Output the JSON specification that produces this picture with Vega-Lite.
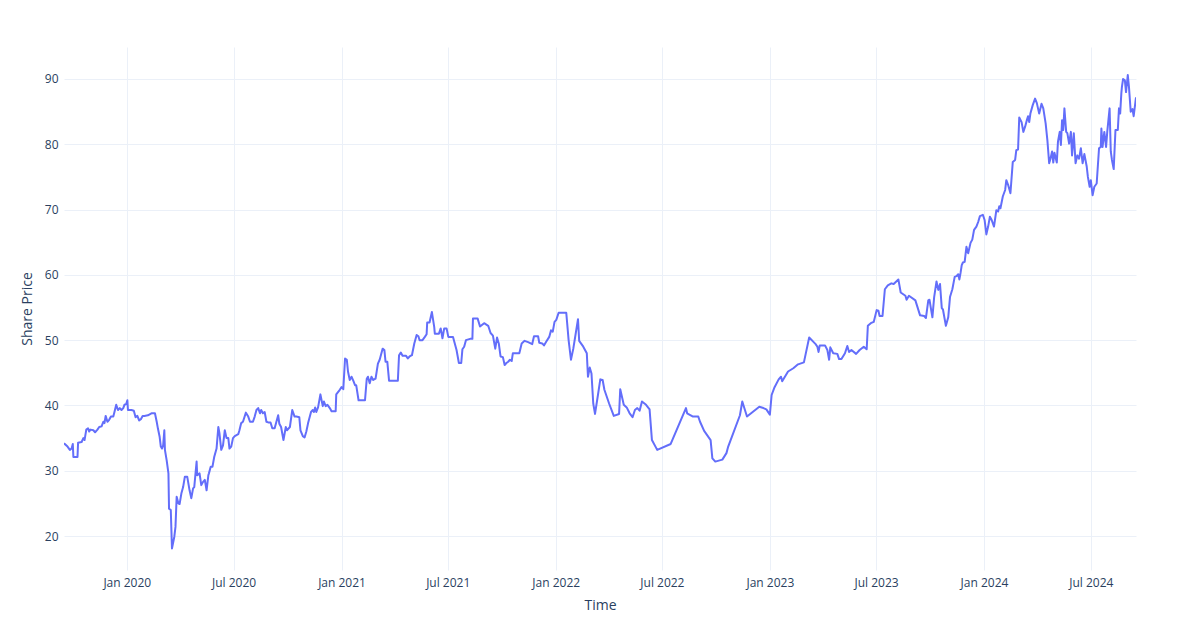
{
  "$schema": "https://vega.github.io/schema/vega-lite/v6.json",
  "width": 1072,
  "height": 523,
  "autosize": {"type": "none"},
  "padding": {"left": 64, "top": 47, "right": 64, "bottom": 70},
  "background": "white",
  "config": {"view": {"stroke": null}, "font": "Open Sans"},
  "data": {
    "format": {"parse": {"date": "utc:'%Y-%m-%d'"}},
    "values": [
      {"date": "2019-09-16", "price": 34.2}, {"date": "2019-09-22", "price": 33.7}, {"date": "2019-09-26", "price": 33.2}, {"date": "2019-09-29", "price": 33.4},
      {"date": "2019-10-01", "price": 34.1}, {"date": "2019-10-02", "price": 32.1}, {"date": "2019-10-09", "price": 32.1}, {"date": "2019-10-10", "price": 34.3},
      {"date": "2019-10-16", "price": 34.4}, {"date": "2019-10-19", "price": 35.0}, {"date": "2019-10-21", "price": 34.7}, {"date": "2019-10-24", "price": 36.3},
      {"date": "2019-10-27", "price": 36.5}, {"date": "2019-10-29", "price": 36.0}, {"date": "2019-10-31", "price": 36.3}, {"date": "2019-11-05", "price": 36.2},
      {"date": "2019-11-08", "price": 35.9}, {"date": "2019-11-12", "price": 36.3}, {"date": "2019-11-15", "price": 36.7}, {"date": "2019-11-19", "price": 36.8},
      {"date": "2019-11-22", "price": 37.5}, {"date": "2019-11-24", "price": 37.3}, {"date": "2019-11-26", "price": 38.4}, {"date": "2019-11-29", "price": 37.5},
      {"date": "2019-12-02", "price": 37.8}, {"date": "2019-12-05", "price": 38.3}, {"date": "2019-12-09", "price": 38.3}, {"date": "2019-12-11", "price": 39.0},
      {"date": "2019-12-14", "price": 40.1}, {"date": "2019-12-17", "price": 39.3}, {"date": "2019-12-20", "price": 39.6}, {"date": "2019-12-23", "price": 39.3},
      {"date": "2019-12-26", "price": 39.6}, {"date": "2019-12-28", "price": 40.1}, {"date": "2019-12-31", "price": 40.2},
      {"date": "2020-01-02", "price": 40.8}, {"date": "2020-01-03", "price": 39.3}, {"date": "2020-01-09", "price": 39.3}, {"date": "2020-01-13", "price": 39.2},
      {"date": "2020-01-16", "price": 38.2}, {"date": "2020-01-19", "price": 38.4}, {"date": "2020-01-22", "price": 37.7}, {"date": "2020-01-25", "price": 37.9},
      {"date": "2020-01-28", "price": 38.4}, {"date": "2020-01-31", "price": 38.4}, {"date": "2020-02-06", "price": 38.5}, {"date": "2020-02-12", "price": 38.8},
      {"date": "2020-02-18", "price": 38.8}, {"date": "2020-02-21", "price": 37.5}, {"date": "2020-02-23", "price": 36.5}, {"date": "2020-02-26", "price": 35.2},
      {"date": "2020-02-28", "price": 33.7}, {"date": "2020-03-01", "price": 33.4}, {"date": "2020-03-03", "price": 33.9}, {"date": "2020-03-05", "price": 36.2},
      {"date": "2020-03-06", "price": 33.2}, {"date": "2020-03-09", "price": 31.6}, {"date": "2020-03-12", "price": 29.6}, {"date": "2020-03-13", "price": 24.2},
      {"date": "2020-03-16", "price": 24.0}, {"date": "2020-03-18", "price": 18.1}, {"date": "2020-03-22", "price": 19.9}, {"date": "2020-03-24", "price": 21.4},
      {"date": "2020-03-26", "price": 26.0}, {"date": "2020-03-29", "price": 25.0}, {"date": "2020-03-31", "price": 24.9}, {"date": "2020-04-03", "price": 26.5},
      {"date": "2020-04-06", "price": 27.5}, {"date": "2020-04-09", "price": 29.1}, {"date": "2020-04-13", "price": 29.1}, {"date": "2020-04-17", "price": 27.0},
      {"date": "2020-04-20", "price": 25.8}, {"date": "2020-04-23", "price": 27.3}, {"date": "2020-04-25", "price": 27.5}, {"date": "2020-04-29", "price": 31.4},
      {"date": "2020-04-30", "price": 29.3}, {"date": "2020-05-04", "price": 29.6}, {"date": "2020-05-07", "price": 27.8}, {"date": "2020-05-10", "price": 28.3},
      {"date": "2020-05-13", "price": 28.6}, {"date": "2020-05-16", "price": 27.0}, {"date": "2020-05-19", "price": 29.3}, {"date": "2020-05-20", "price": 29.6},
      {"date": "2020-05-23", "price": 30.6}, {"date": "2020-05-26", "price": 30.6}, {"date": "2020-05-29", "price": 32.1}, {"date": "2020-06-02", "price": 33.4},
      {"date": "2020-06-05", "price": 36.7}, {"date": "2020-06-07", "price": 35.7}, {"date": "2020-06-10", "price": 33.2}, {"date": "2020-06-13", "price": 33.9},
      {"date": "2020-06-16", "price": 36.2}, {"date": "2020-06-19", "price": 35.0}, {"date": "2020-06-22", "price": 35.0}, {"date": "2020-06-24", "price": 33.4},
      {"date": "2020-06-27", "price": 33.7}, {"date": "2020-06-30", "price": 35.0}, {"date": "2020-07-03", "price": 35.3}, {"date": "2020-07-09", "price": 35.6},
      {"date": "2020-07-11", "price": 36.2}, {"date": "2020-07-14", "price": 37.3}, {"date": "2020-07-17", "price": 37.5}, {"date": "2020-07-22", "price": 38.9},
      {"date": "2020-07-26", "price": 38.3}, {"date": "2020-07-29", "price": 37.5}, {"date": "2020-08-03", "price": 37.5}, {"date": "2020-08-06", "price": 38.3},
      {"date": "2020-08-09", "price": 39.3}, {"date": "2020-08-12", "price": 39.6}, {"date": "2020-08-15", "price": 38.8}, {"date": "2020-08-17", "price": 39.3},
      {"date": "2020-08-20", "price": 38.8}, {"date": "2020-08-23", "price": 39.0}, {"date": "2020-08-26", "price": 37.5}, {"date": "2020-08-29", "price": 37.4},
      {"date": "2020-09-02", "price": 37.4}, {"date": "2020-09-05", "price": 36.5}, {"date": "2020-09-09", "price": 36.5}, {"date": "2020-09-12", "price": 37.5},
      {"date": "2020-09-15", "price": 38.5}, {"date": "2020-09-17", "price": 37.2}, {"date": "2020-09-20", "price": 36.7}, {"date": "2020-09-24", "price": 34.7},
      {"date": "2020-09-28", "price": 36.7}, {"date": "2020-09-30", "price": 36.2}, {"date": "2020-10-05", "price": 36.7}, {"date": "2020-10-09", "price": 39.3},
      {"date": "2020-10-13", "price": 38.3}, {"date": "2020-10-16", "price": 38.3}, {"date": "2020-10-21", "price": 38.2}, {"date": "2020-10-23", "price": 36.2},
      {"date": "2020-10-27", "price": 35.3}, {"date": "2020-10-30", "price": 35.1}, {"date": "2020-11-02", "price": 36.0}, {"date": "2020-11-05", "price": 37.3},
      {"date": "2020-11-10", "price": 39.0}, {"date": "2020-11-13", "price": 39.3}, {"date": "2020-11-15", "price": 39.0}, {"date": "2020-11-17", "price": 39.7},
      {"date": "2020-11-19", "price": 39.0}, {"date": "2020-11-22", "price": 39.7}, {"date": "2020-11-26", "price": 41.7}, {"date": "2020-11-30", "price": 39.9},
      {"date": "2020-12-02", "price": 40.6}, {"date": "2020-12-05", "price": 39.9}, {"date": "2020-12-08", "price": 40.1}, {"date": "2020-12-12", "price": 39.6},
      {"date": "2020-12-15", "price": 39.1}, {"date": "2020-12-22", "price": 39.1}, {"date": "2020-12-23", "price": 41.7}, {"date": "2020-12-29", "price": 42.4},
      {"date": "2021-01-01", "price": 42.8}, {"date": "2021-01-04", "price": 42.5}, {"date": "2021-01-07", "price": 47.2}, {"date": "2021-01-10", "price": 47.0},
      {"date": "2021-01-12", "price": 45.2}, {"date": "2021-01-15", "price": 43.9}, {"date": "2021-01-18", "price": 44.4}, {"date": "2021-01-21", "price": 43.8},
      {"date": "2021-01-24", "price": 43.1}, {"date": "2021-01-26", "price": 43.1}, {"date": "2021-01-30", "price": 40.8}, {"date": "2021-02-10", "price": 40.8},
      {"date": "2021-02-13", "price": 44.1}, {"date": "2021-02-15", "price": 44.4}, {"date": "2021-02-18", "price": 43.4}, {"date": "2021-02-21", "price": 44.4},
      {"date": "2021-02-24", "price": 43.9}, {"date": "2021-02-28", "price": 44.1}, {"date": "2021-03-04", "price": 46.4}, {"date": "2021-03-07", "price": 47.0},
      {"date": "2021-03-12", "price": 48.7}, {"date": "2021-03-15", "price": 48.5}, {"date": "2021-03-17", "price": 46.7}, {"date": "2021-03-20", "price": 46.7},
      {"date": "2021-03-23", "price": 43.8}, {"date": "2021-04-07", "price": 43.8}, {"date": "2021-04-09", "price": 47.7}, {"date": "2021-04-12", "price": 48.1},
      {"date": "2021-04-15", "price": 47.6}, {"date": "2021-04-21", "price": 47.6}, {"date": "2021-04-24", "price": 47.2}, {"date": "2021-04-27", "price": 47.5},
      {"date": "2021-05-01", "price": 47.7}, {"date": "2021-05-05", "price": 49.5}, {"date": "2021-05-09", "price": 50.8}, {"date": "2021-05-12", "price": 50.6},
      {"date": "2021-05-14", "price": 50.0}, {"date": "2021-05-19", "price": 50.0}, {"date": "2021-05-23", "price": 50.5}, {"date": "2021-05-26", "price": 50.9},
      {"date": "2021-05-27", "price": 52.7}, {"date": "2021-05-31", "price": 52.7}, {"date": "2021-06-04", "price": 54.3}, {"date": "2021-06-08", "price": 52.0},
      {"date": "2021-06-09", "price": 51.0}, {"date": "2021-06-16", "price": 51.0}, {"date": "2021-06-19", "price": 51.8}, {"date": "2021-06-22", "price": 50.3},
      {"date": "2021-06-25", "price": 51.8}, {"date": "2021-06-29", "price": 51.8}, {"date": "2021-07-02", "price": 50.5}, {"date": "2021-07-10", "price": 50.5},
      {"date": "2021-07-16", "price": 48.5}, {"date": "2021-07-20", "price": 46.5}, {"date": "2021-07-24", "price": 46.5}, {"date": "2021-07-26", "price": 48.6},
      {"date": "2021-07-29", "price": 49.0}, {"date": "2021-08-01", "price": 50.0}, {"date": "2021-08-08", "price": 50.2}, {"date": "2021-08-12", "price": 50.2},
      {"date": "2021-08-13", "price": 53.3}, {"date": "2021-08-21", "price": 53.3}, {"date": "2021-08-25", "price": 52.1}, {"date": "2021-09-01", "price": 52.6},
      {"date": "2021-09-08", "price": 52.2}, {"date": "2021-09-12", "price": 51.1}, {"date": "2021-09-16", "price": 50.7}, {"date": "2021-09-20", "price": 48.7},
      {"date": "2021-09-23", "price": 50.4}, {"date": "2021-09-26", "price": 49.5}, {"date": "2021-09-29", "price": 47.5}, {"date": "2021-10-03", "price": 47.4},
      {"date": "2021-10-06", "price": 46.2}, {"date": "2021-10-09", "price": 46.5}, {"date": "2021-10-12", "price": 46.7}, {"date": "2021-10-15", "price": 47.0},
      {"date": "2021-10-18", "price": 46.8}, {"date": "2021-10-20", "price": 48.0}, {"date": "2021-10-31", "price": 48.0}, {"date": "2021-11-04", "price": 49.5},
      {"date": "2021-11-09", "price": 49.9}, {"date": "2021-11-15", "price": 49.7}, {"date": "2021-11-22", "price": 49.4}, {"date": "2021-11-25", "price": 50.6},
      {"date": "2021-12-02", "price": 50.6}, {"date": "2021-12-04", "price": 49.6}, {"date": "2021-12-09", "price": 49.5}, {"date": "2021-12-12", "price": 49.2},
      {"date": "2021-12-16", "price": 49.8}, {"date": "2021-12-21", "price": 50.5}, {"date": "2021-12-24", "price": 51.5}, {"date": "2021-12-27", "price": 51.3},
      {"date": "2021-12-30", "price": 52.8}, {"date": "2022-01-02", "price": 53.1}, {"date": "2022-01-06", "price": 54.2}, {"date": "2022-01-19", "price": 54.2},
      {"date": "2022-01-21", "price": 52.1}, {"date": "2022-01-23", "price": 50.0}, {"date": "2022-01-27", "price": 47.0}, {"date": "2022-01-31", "price": 48.7},
      {"date": "2022-02-08", "price": 53.2}, {"date": "2022-02-10", "price": 49.9}, {"date": "2022-02-17", "price": 49.0}, {"date": "2022-02-23", "price": 48.0},
      {"date": "2022-02-25", "price": 44.4}, {"date": "2022-02-28", "price": 45.8}, {"date": "2022-03-03", "price": 44.9}, {"date": "2022-03-06", "price": 40.3},
      {"date": "2022-03-09", "price": 38.7}, {"date": "2022-03-14", "price": 41.6}, {"date": "2022-03-18", "price": 44.0}, {"date": "2022-03-22", "price": 43.9},
      {"date": "2022-03-25", "price": 42.4}, {"date": "2022-04-02", "price": 40.3}, {"date": "2022-04-10", "price": 38.4}, {"date": "2022-04-19", "price": 38.7},
      {"date": "2022-04-21", "price": 42.5}, {"date": "2022-04-27", "price": 40.1}, {"date": "2022-05-02", "price": 39.7}, {"date": "2022-05-07", "price": 38.8},
      {"date": "2022-05-12", "price": 38.2}, {"date": "2022-05-16", "price": 39.3}, {"date": "2022-05-20", "price": 39.6}, {"date": "2022-05-24", "price": 39.2},
      {"date": "2022-05-28", "price": 40.6}, {"date": "2022-06-04", "price": 40.1}, {"date": "2022-06-10", "price": 39.4}, {"date": "2022-06-14", "price": 34.7},
      {"date": "2022-06-23", "price": 33.2}, {"date": "2022-07-16", "price": 34.1}, {"date": "2022-08-11", "price": 39.6}, {"date": "2022-08-13", "price": 38.8},
      {"date": "2022-08-23", "price": 38.3}, {"date": "2022-09-01", "price": 38.3}, {"date": "2022-09-04", "price": 37.5}, {"date": "2022-09-11", "price": 36.1},
      {"date": "2022-09-22", "price": 34.7}, {"date": "2022-09-25", "price": 31.9}, {"date": "2022-09-27", "price": 31.7}, {"date": "2022-09-30", "price": 31.4},
      {"date": "2022-10-12", "price": 31.7}, {"date": "2022-10-19", "price": 32.7}, {"date": "2022-10-22", "price": 33.7}, {"date": "2022-11-11", "price": 38.5},
      {"date": "2022-11-15", "price": 40.6}, {"date": "2022-11-23", "price": 38.3}, {"date": "2022-12-14", "price": 39.8}, {"date": "2022-12-21", "price": 39.6},
      {"date": "2022-12-26", "price": 39.4}, {"date": "2023-01-01", "price": 38.6}, {"date": "2023-01-04", "price": 41.6}, {"date": "2023-01-09", "price": 42.8},
      {"date": "2023-01-16", "price": 44.0}, {"date": "2023-01-20", "price": 44.4}, {"date": "2023-01-22", "price": 43.7}, {"date": "2023-02-01", "price": 45.2},
      {"date": "2023-02-10", "price": 45.7}, {"date": "2023-02-18", "price": 46.3}, {"date": "2023-02-28", "price": 46.6}, {"date": "2023-03-09", "price": 50.4},
      {"date": "2023-03-20", "price": 49.4}, {"date": "2023-03-23", "price": 49.0}, {"date": "2023-03-25", "price": 48.2}, {"date": "2023-03-27", "price": 49.2},
      {"date": "2023-04-05", "price": 49.2}, {"date": "2023-04-09", "price": 48.5}, {"date": "2023-04-12", "price": 47.0}, {"date": "2023-04-14", "price": 48.9},
      {"date": "2023-04-19", "price": 48.0}, {"date": "2023-04-26", "price": 47.9}, {"date": "2023-04-29", "price": 47.1}, {"date": "2023-05-03", "price": 47.1},
      {"date": "2023-05-09", "price": 48.0}, {"date": "2023-05-13", "price": 49.1}, {"date": "2023-05-16", "price": 48.2}, {"date": "2023-05-20", "price": 48.5},
      {"date": "2023-05-28", "price": 47.9}, {"date": "2023-06-03", "price": 48.5}, {"date": "2023-06-10", "price": 49.0}, {"date": "2023-06-15", "price": 48.6},
      {"date": "2023-06-17", "price": 52.2}, {"date": "2023-06-22", "price": 52.6}, {"date": "2023-06-27", "price": 52.8}, {"date": "2023-07-02", "price": 54.6},
      {"date": "2023-07-05", "price": 54.5}, {"date": "2023-07-07", "price": 53.7}, {"date": "2023-07-12", "price": 53.7}, {"date": "2023-07-16", "price": 57.8},
      {"date": "2023-07-21", "price": 58.4}, {"date": "2023-07-27", "price": 58.7}, {"date": "2023-07-31", "price": 58.6}, {"date": "2023-08-08", "price": 59.3},
      {"date": "2023-08-12", "price": 57.3}, {"date": "2023-08-20", "price": 56.8}, {"date": "2023-08-22", "price": 56.2}, {"date": "2023-08-26", "price": 56.8},
      {"date": "2023-09-06", "price": 56.1}, {"date": "2023-09-14", "price": 53.8}, {"date": "2023-09-21", "price": 53.7}, {"date": "2023-09-24", "price": 53.4},
      {"date": "2023-09-28", "price": 56.1}, {"date": "2023-09-30", "price": 56.2}, {"date": "2023-10-05", "price": 53.5}, {"date": "2023-10-08", "price": 56.6},
      {"date": "2023-10-12", "price": 59.0}, {"date": "2023-10-15", "price": 57.7}, {"date": "2023-10-18", "price": 58.6}, {"date": "2023-10-21", "price": 54.9},
      {"date": "2023-10-23", "price": 54.7}, {"date": "2023-10-28", "price": 52.2}, {"date": "2023-11-01", "price": 53.5}, {"date": "2023-11-04", "price": 56.6},
      {"date": "2023-11-08", "price": 57.8}, {"date": "2023-11-12", "price": 59.7}, {"date": "2023-11-15", "price": 59.8}, {"date": "2023-11-18", "price": 60.1},
      {"date": "2023-11-20", "price": 59.3}, {"date": "2023-11-22", "price": 60.3}, {"date": "2023-11-24", "price": 61.5}, {"date": "2023-11-26", "price": 61.9},
      {"date": "2023-11-29", "price": 62.0}, {"date": "2023-12-02", "price": 64.3}, {"date": "2023-12-05", "price": 63.3}, {"date": "2023-12-09", "price": 64.9},
      {"date": "2023-12-12", "price": 65.4}, {"date": "2023-12-15", "price": 66.9}, {"date": "2023-12-19", "price": 67.4}, {"date": "2023-12-22", "price": 68.1},
      {"date": "2023-12-25", "price": 69.0}, {"date": "2023-12-30", "price": 69.2}, {"date": "2024-01-02", "price": 68.4}, {"date": "2024-01-05", "price": 66.2},
      {"date": "2024-01-08", "price": 67.4}, {"date": "2024-01-11", "price": 68.9}, {"date": "2024-01-14", "price": 68.4}, {"date": "2024-01-18", "price": 67.4},
      {"date": "2024-01-22", "price": 69.9}, {"date": "2024-01-25", "price": 69.7}, {"date": "2024-01-27", "price": 70.5}, {"date": "2024-01-29", "price": 70.2},
      {"date": "2024-02-02", "price": 72.0}, {"date": "2024-02-06", "price": 73.0}, {"date": "2024-02-08", "price": 74.5}, {"date": "2024-02-11", "price": 73.8},
      {"date": "2024-02-15", "price": 72.5}, {"date": "2024-02-19", "price": 77.3}, {"date": "2024-02-23", "price": 77.6}, {"date": "2024-02-25", "price": 79.1},
      {"date": "2024-02-28", "price": 79.2}, {"date": "2024-03-01", "price": 84.1}, {"date": "2024-03-05", "price": 83.4}, {"date": "2024-03-08", "price": 81.9},
      {"date": "2024-03-11", "price": 82.7}, {"date": "2024-03-14", "price": 83.7}, {"date": "2024-03-16", "price": 84.3}, {"date": "2024-03-18", "price": 83.4},
      {"date": "2024-03-20", "price": 84.7}, {"date": "2024-03-24", "price": 86.0}, {"date": "2024-03-28", "price": 87.0}, {"date": "2024-03-31", "price": 86.3},
      {"date": "2024-04-02", "price": 85.5}, {"date": "2024-04-04", "price": 84.7}, {"date": "2024-04-08", "price": 86.2}, {"date": "2024-04-11", "price": 85.5},
      {"date": "2024-04-15", "price": 83.2}, {"date": "2024-04-18", "price": 80.6}, {"date": "2024-04-21", "price": 77.1}, {"date": "2024-04-23", "price": 77.7},
      {"date": "2024-04-26", "price": 78.9}, {"date": "2024-04-28", "price": 77.2}, {"date": "2024-04-30", "price": 78.7}, {"date": "2024-05-04", "price": 77.2},
      {"date": "2024-05-06", "price": 80.4}, {"date": "2024-05-09", "price": 81.9}, {"date": "2024-05-11", "price": 79.9}, {"date": "2024-05-13", "price": 83.7},
      {"date": "2024-05-15", "price": 82.2}, {"date": "2024-05-17", "price": 85.5}, {"date": "2024-05-20", "price": 81.9}, {"date": "2024-05-22", "price": 81.7},
      {"date": "2024-05-25", "price": 80.1}, {"date": "2024-05-28", "price": 81.9}, {"date": "2024-05-30", "price": 78.3}, {"date": "2024-06-02", "price": 81.7},
      {"date": "2024-06-05", "price": 77.1}, {"date": "2024-06-08", "price": 78.3}, {"date": "2024-06-11", "price": 77.8}, {"date": "2024-06-14", "price": 79.4},
      {"date": "2024-06-17", "price": 77.1}, {"date": "2024-06-20", "price": 78.5}, {"date": "2024-06-24", "price": 76.6}, {"date": "2024-06-26", "price": 75.0},
      {"date": "2024-06-29", "price": 73.5}, {"date": "2024-07-01", "price": 74.5}, {"date": "2024-07-04", "price": 72.2}, {"date": "2024-07-07", "price": 73.5},
      {"date": "2024-07-11", "price": 74.0}, {"date": "2024-07-15", "price": 79.4}, {"date": "2024-07-18", "price": 79.6}, {"date": "2024-07-19", "price": 82.4},
      {"date": "2024-07-21", "price": 79.6}, {"date": "2024-07-24", "price": 81.9}, {"date": "2024-07-27", "price": 79.6}, {"date": "2024-07-29", "price": 81.9},
      {"date": "2024-08-02", "price": 85.5}, {"date": "2024-08-04", "price": 78.9}, {"date": "2024-08-06", "price": 77.6}, {"date": "2024-08-09", "price": 76.2},
      {"date": "2024-08-12", "price": 82.2}, {"date": "2024-08-16", "price": 82.2}, {"date": "2024-08-18", "price": 85.5}, {"date": "2024-08-20", "price": 84.7},
      {"date": "2024-08-22", "price": 87.8}, {"date": "2024-08-23", "price": 88.8}, {"date": "2024-08-25", "price": 90.0}, {"date": "2024-08-28", "price": 89.8},
      {"date": "2024-08-30", "price": 88.0}, {"date": "2024-09-02", "price": 90.6}, {"date": "2024-09-04", "price": 88.8}, {"date": "2024-09-07", "price": 85.0},
      {"date": "2024-09-10", "price": 85.4}, {"date": "2024-09-12", "price": 84.3}, {"date": "2024-09-16", "price": 87.2}
    ]
  },
  "mark": {"type": "line", "color": "#636efa", "strokeWidth": 2, "strokeJoin": "round", "clip": true},
  "encoding": {
    "x": {
      "field": "date",
      "type": "temporal",
      "scale": {"type": "utc", "domain": [{"year": 2019, "month": 9, "date": 16, "utc": true}, {"year": 2024, "month": 9, "date": 16, "utc": true}]},
      "axis": {
        "title": "Time",
        "labelExpr": "utcFormat(datum.value, '%b %Y')",
        "tickCount": {"interval": "month", "step": 6},
        "grid": true,
        "gridColor": "#EBF0F8",
        "gridWidth": 1,
        "domain": false,
        "ticks": false,
        "labelPadding": 7,
        "labelFontSize": 12,
        "labelColor": "#2a3f5f",
        "labelFont": "Open Sans",
        "labelFlush": false,
        "titleFont": "Open Sans",
        "titleFontSize": 14,
        "titleFontWeight": "normal",
        "titleColor": "#2a3f5f",
        "titlePadding": 10
      }
    },
    "y": {
      "field": "price",
      "type": "quantitative",
      "scale": {"domain": [14.8, 94.9], "nice": false, "zero": false},
      "axis": {
        "title": "Share Price",
        "values": [20, 30, 40, 50, 60, 70, 80, 90],
        "grid": true,
        "gridColor": "#EBF0F8",
        "gridWidth": 1,
        "domain": false,
        "ticks": false,
        "labelPadding": 6,
        "labelFontSize": 12,
        "labelColor": "#2a3f5f",
        "labelFont": "Open Sans",
        "titleFont": "Open Sans",
        "titleFontSize": 14,
        "titleFontWeight": "normal",
        "titleColor": "#2a3f5f",
        "titlePadding": 10
      }
    }
  }
}
